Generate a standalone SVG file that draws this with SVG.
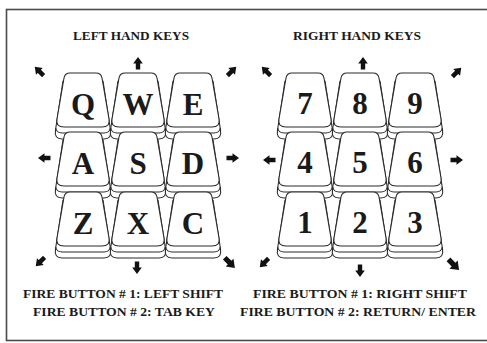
<svg xmlns="http://www.w3.org/2000/svg" xmlns:xlink="http://www.w3.org/1999/xlink" width="487" height="343" viewBox="0 0 487 343">
<style>
.cap{fill:#fff;stroke:#2a2a2a;stroke-width:1.1;stroke-linejoin:round}
.ln{fill:none;stroke:#2a2a2a;stroke-width:1.1}
.lbl{font-family:"Liberation Serif",serif;font-weight:bold;font-size:31px;fill:#1a1a1a;text-anchor:middle}
.ttl{font-family:"Liberation Serif",serif;font-weight:bold;font-size:12px;fill:#1a1a1a;text-anchor:middle}
.ftr{font-family:"Liberation Serif",serif;font-weight:bold;font-size:12.5px;fill:#1a1a1a;text-anchor:middle}
.arr{fill:#111}
</style>
<defs>
<g id="keycap">
<path class="cap" d="M -20,8 L 20,8 L 27.5,57 Q 29,66 21,66 L -21,66 Q -29,66 -27.5,57 Z"/>
<path class="ln" d="M -27.3,55 Q -26.5,60 -21,60 L 21,60 Q 26.5,60 27.3,55"/>
<path class="cap" d="M -13,0 L 13,0 Q 18,0 19,5 L 26,46 Q 27.5,54 19,54 L -19,54 Q -27.5,54 -26,46 L -19,5 Q -18,0 -13,0 Z"/>
</g>
<path id="arrow" class="arr" d="M -6.5,-2.2 L -0.5,-2.2 L -0.5,-4.8 L 6,0 L -0.5,4.8 L -0.5,2.2 L -6.5,2.2 Z"/>
</defs>
<rect x="6.5" y="9.5" width="495" height="331" fill="#fff" stroke="#4a4a4a" stroke-width="1.6"/>

<text class="ttl" x="131" y="40" textLength="116" lengthAdjust="spacingAndGlyphs">LEFT HAND KEYS</text>
<text class="ttl" x="357" y="40" textLength="128" lengthAdjust="spacingAndGlyphs">RIGHT HAND KEYS</text>

<g id="left-keys">
<g id="key-q" transform="translate(83,73)"><use xlink:href="#keycap"/><text class="lbl" x="0" y="42">Q</text></g>
<g id="key-w" transform="translate(138,73)"><use xlink:href="#keycap"/><text class="lbl" x="0" y="42">W</text></g>
<g id="key-e" transform="translate(193,73)"><use xlink:href="#keycap"/><text class="lbl" x="0" y="42">E</text></g>
<g id="key-a" transform="translate(83,132)"><use xlink:href="#keycap"/><text class="lbl" x="0" y="42">A</text></g>
<g id="key-s" transform="translate(138,132)"><use xlink:href="#keycap"/><text class="lbl" x="0" y="42">S</text></g>
<g id="key-d" transform="translate(193,132)"><use xlink:href="#keycap"/><text class="lbl" x="0" y="42">D</text></g>
<g id="key-z" transform="translate(83,192)"><use xlink:href="#keycap"/><text class="lbl" x="0" y="42">Z</text></g>
<g id="key-x" transform="translate(138,192)"><use xlink:href="#keycap"/><text class="lbl" x="0" y="42">X</text></g>
<g id="key-c" transform="translate(193,192)"><use xlink:href="#keycap"/><text class="lbl" x="0" y="42">C</text></g>
</g>

<g id="right-keys">
<g id="key-7" transform="translate(305,73)"><use xlink:href="#keycap"/><text class="lbl" x="0" y="41">7</text></g>
<g id="key-8" transform="translate(360,73)"><use xlink:href="#keycap"/><text class="lbl" x="0" y="41">8</text></g>
<g id="key-9" transform="translate(415,73)"><use xlink:href="#keycap"/><text class="lbl" x="0" y="41">9</text></g>
<g id="key-4" transform="translate(305,132)"><use xlink:href="#keycap"/><text class="lbl" x="0" y="41">4</text></g>
<g id="key-5" transform="translate(360,132)"><use xlink:href="#keycap"/><text class="lbl" x="0" y="41">5</text></g>
<g id="key-6" transform="translate(415,132)"><use xlink:href="#keycap"/><text class="lbl" x="0" y="41">6</text></g>
<g id="key-1" transform="translate(305,192)"><use xlink:href="#keycap"/><text class="lbl" x="0" y="41">1</text></g>
<g id="key-2" transform="translate(360,192)"><use xlink:href="#keycap"/><text class="lbl" x="0" y="41">2</text></g>
<g id="key-3" transform="translate(415,192)"><use xlink:href="#keycap"/><text class="lbl" x="0" y="41">3</text></g>
</g>

<g id="arrows">
<use xlink:href="#arrow" transform="translate(39,71) rotate(-135)"/>
<use xlink:href="#arrow" transform="translate(138,63) rotate(-90)"/>
<use xlink:href="#arrow" transform="translate(232,71) rotate(-45)"/>
<use xlink:href="#arrow" transform="translate(44,158) rotate(180)"/>
<use xlink:href="#arrow" transform="translate(233,158)"/>
<use xlink:href="#arrow" transform="translate(40,262) rotate(135)"/>
<use xlink:href="#arrow" transform="translate(137,268) rotate(90)"/>
<use xlink:href="#arrow" transform="translate(230,263) rotate(45) scale(1.15)"/>
<use xlink:href="#arrow" transform="translate(266,71) rotate(-135)"/>
<use xlink:href="#arrow" transform="translate(363,63) rotate(-90)"/>
<use xlink:href="#arrow" transform="translate(457,72) rotate(-45)"/>
<use xlink:href="#arrow" transform="translate(269,160) rotate(180)"/>
<use xlink:href="#arrow" transform="translate(457,160)"/>
<use xlink:href="#arrow" transform="translate(264,263) rotate(135)"/>
<use xlink:href="#arrow" transform="translate(360,271) rotate(90)"/>
<use xlink:href="#arrow" transform="translate(454,265) rotate(45) scale(1.2)"/>
</g>

<text class="ftr" x="123" y="298" textLength="200" lengthAdjust="spacingAndGlyphs">FIRE BUTTON # 1: LEFT SHIFT</text>
<text class="ftr" x="124" y="316" textLength="182" lengthAdjust="spacingAndGlyphs">FIRE BUTTON # 2: TAB KEY</text>
<text class="ftr" x="360" y="298" textLength="214" lengthAdjust="spacingAndGlyphs">FIRE BUTTON # 1: RIGHT SHIFT</text>
<text class="ftr" x="358" y="316" textLength="236" lengthAdjust="spacingAndGlyphs">FIRE BUTTON # 2: RETURN/ ENTER</text>
</svg>
